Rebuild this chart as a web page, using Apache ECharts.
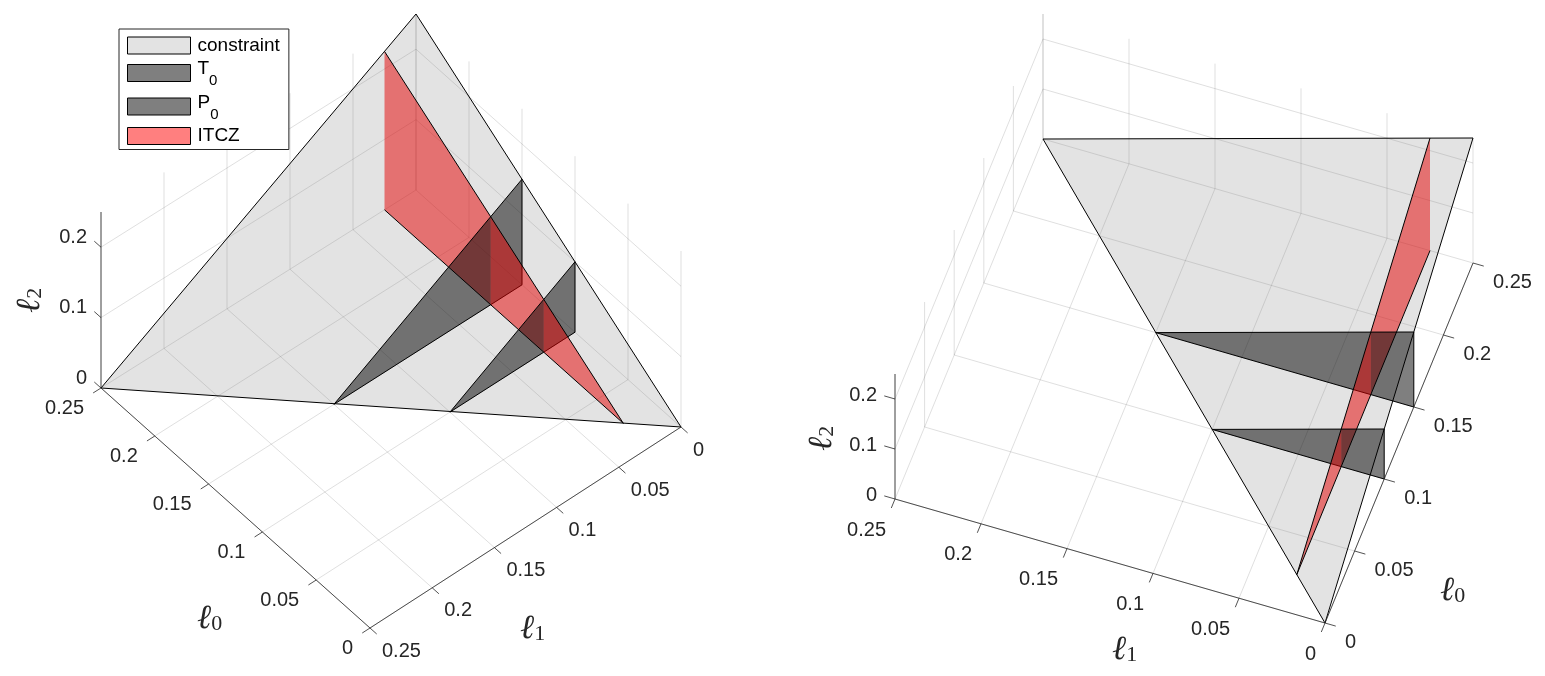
<!DOCTYPE html>
<html lang="en">

<head>
  <meta charset="UTF-8">
  <title>constraint, T0, P0, ITCZ</title>
  <script src="https://cdn.jsdelivr.net/npm/echarts@6/dist/echarts.min.js"></script>
  <style>
    html, body { margin: 0; padding: 0; background: #fff; }
    #myCharts { width: 1545px; height: 676px; }
  </style>
</head>

<body>
  <div id="myCharts"></div>

  <script>
    // axis values
    var lTicks = [0, 0.05, 0.1, 0.15, 0.2, 0.25];
    var lTickLabels = ['0', '0.05', '0.1', '0.15', '0.2', '0.25'];
    var zTicks = [0, 0.1, 0.2];
    var zTickLabels = ['0', '0.1', '0.2'];
    var lMax = 0.25;
    var zMax = 0.25;

    // surfaces, every vertex is [l0, l1, l2]. The outline runs along the listed
    // points and is not closed, the fill is.
    var constraint = [[0.25, 0.25, 0], [0, 0, 0], [0.25, 0, 0.25], [0.25, 0.25, 0]];
    var itcz = [[0.25, 0.025, 0.225], [0.025, 0.025, 0], [0.25, 0.025, 0]];
    // T0 and P0 are cut where they cross the ITCZ, so each side can be painted in depth order
    var t0High = [[0.15, 0.025, 0.125], [0.15, 0.15, 0], [0.15, 0.025, 0]];
    var t0Low = [[0.15, 0.025, 0], [0.15, 0, 0], [0.15, 0, 0.15], [0.15, 0.025, 0.125]];
    var p0High = [[0.1, 0.025, 0.075], [0.1, 0.1, 0], [0.1, 0.025, 0]];
    var p0Low = [[0.1, 0.025, 0], [0.1, 0, 0], [0.1, 0, 0.1], [0.1, 0.025, 0.075]];

    var legendNames = ['constraint', 'T0', 'P0', 'ITCZ'];
    var legendLabels = ['{n|constraint}', '{t|T}{sub|0}', '{t|P}{sub|0}', '{n|ITCZ}'];

    // fill inside the plots
    var fills = {
      constraint: 'rgba(128,128,128,0.22)',
      T0: 'rgba(0,0,0,0.5)',
      P0: 'rgba(0,0,0,0.5)',
      ITCZ: 'rgba(230,0,0,0.5)'
    };
    // fill of the legend swatches
    var swatches = {
      constraint: 'rgba(128,128,128,0.22)',
      T0: 'rgba(0,0,0,0.5)',
      P0: 'rgba(0,0,0,0.5)',
      ITCZ: 'rgba(255,0,0,0.5)'
    };
    var textColor = '#262626';
    var gridColor = 'rgba(38,38,38,0.15)';
    var tickFont = '20px "Liberation Sans"';

    // the two camera views. Vectors are pixels for one unit of data, cross is the
    // small shift from the perspective of the left view
    var views = [{
      left: 0,
      origin: [681, 427],
      l0: [-1060, -948],
      l1: [-1244, 804],
      l2: [0, -704],
      cross: [-64, -48],
      wallL0: 0.25, wallL1: 0,
      zCorner: [0.25, 0.25], zTickDir: [1, 0],
      l0Axis: { l1: 0.25, tick: 1, off: [-17, 20], align: 'right' },
      l1Axis: { l0: 0, tick: -1, off: [12, 23], align: 'left' },
      zOff: [-14, -10],
      paint: [['T0', t0Low], ['P0', p0Low], ['ITCZ', itcz], ['T0', t0High], ['P0', p0High]],
      names: [
        { sub: '0', x: 197, y: 602, rot: 0 },
        { sub: '1', x: 520, y: 612, rot: 0 },
        { sub: '2', x: 13, y: 313, rot: 90 }
      ]
    }, {
      left: 773,
      origin: [552, 623],
      l0: [592, -1440],
      l1: [-1720, -496],
      l2: [0, -500],
      cross: [0, 0],
      wallL0: 0.25, wallL1: 0.25,
      zCorner: [0, 0.25], zTickDir: [0, 1],
      l0Axis: { l1: 0, tick: -1, off: [20, 19], align: 'left' },
      l1Axis: { l0: 0, tick: -1, off: [-9, 31], align: 'right' },
      zOff: [-18, -4],
      paint: [['T0', t0High], ['P0', p0High], ['ITCZ', itcz], ['T0', t0Low], ['P0', p0Low]],
      names: [
        { sub: '0', x: 667, y: 574, rot: 0 },
        { sub: '1', x: 339, y: 633, rot: 0 },
        { sub: '2', x: 32, y: 451, rot: 90 }
      ]
    }];

    function project(p, view) {
      return [
        view.origin[0] + p[0] * view.l0[0] + p[1] * view.l1[0] + p[2] * view.l2[0] + p[0] * p[1] * view.cross[0],
        view.origin[1] + p[0] * view.l0[1] + p[1] * view.l1[1] + p[2] * view.l2[1] + p[0] * p[1] * view.cross[1]
      ];
    }

    function flat(points, view) {
      var row = [];
      points.forEach(function (p) {
        var xy = project(p, view);
        row.push(xy[0], xy[1]);
      });
      return row;
    }

    function surfaceSeries(name, points, view, i) {
      var count = points.length;
      return {
        type: 'custom',
        name: name,
        xAxisIndex: i,
        yAxisIndex: i,
        z: 3,
        silent: true,
        itemStyle: { color: swatches[name], borderColor: '#000', borderWidth: 1 },
        data: [flat(points, view)],
        renderItem: function (params, api) {
          var pts = [];
          for (var k = 0; k < count; k++) {
            pts.push(api.coord([api.value(2 * k), api.value(2 * k + 1)]));
          }
          return {
            type: 'group',
            children: [
              { type: 'polygon', shape: { points: pts }, style: { fill: fills[name] } },
              { type: 'polyline', shape: { points: pts }, style: { fill: null, stroke: '#000', lineWidth: 1 } }
            ]
          };
        }
      };
    }

    function segmentSeries(segments, view, i, color, width, z) {
      return {
        type: 'custom',
        xAxisIndex: i,
        yAxisIndex: i,
        z: z,
        silent: true,
        data: segments.map(function (s) { return flat(s, view); }),
        renderItem: function (params, api) {
          var a = api.coord([api.value(0), api.value(1)]);
          var b = api.coord([api.value(2), api.value(3)]);
          return {
            type: 'line',
            shape: { x1: a[0], y1: a[1], x2: b[0], y2: b[1] },
            style: { stroke: color, lineWidth: width }
          };
        }
      };
    }

    function labelSeries(points, labels, view, i, off, align) {
      return {
        type: 'custom',
        xAxisIndex: i,
        yAxisIndex: i,
        z: 5,
        silent: true,
        data: points.map(function (p) { return project(p, view); }),
        renderItem: function (params, api) {
          var c = api.coord([api.value(0), api.value(1)]);
          return {
            type: 'text',
            x: c[0] + off[0],
            y: c[1] + off[1],
            style: {
              text: labels[params.dataIndex],
              font: tickFont,
              fill: textColor,
              align: align,
              verticalAlign: 'middle'
            }
          };
        }
      };
    }

    // grid lines on the floor and the two back walls
    function gridSegments(view) {
      var out = [];
      lTicks.forEach(function (t) {
        out.push([[t, 0, 0], [t, lMax, 0]]);
        out.push([[0, t, 0], [lMax, t, 0]]);
        out.push([[t, view.wallL1, 0], [t, view.wallL1, zMax]]);
        out.push([[view.wallL0, t, 0], [view.wallL0, t, zMax]]);
      });
      zTicks.forEach(function (z) {
        if (z === 0) return;
        out.push([[0, view.wallL1, z], [lMax, view.wallL1, z]]);
        out.push([[view.wallL0, 0, z], [view.wallL0, lMax, z]]);
      });
      return out;
    }

    // axis lines and ticks, a tick is 2.5% of the axis it runs along
    function axisSegments(view) {
      var tick = lMax * 0.025;
      var a0 = view.l0Axis, a1 = view.l1Axis, zc = view.zCorner;
      var out = [
        [[0, a0.l1, 0], [lMax, a0.l1, 0]],
        [[a1.l0, 0, 0], [a1.l0, lMax, 0]],
        [[zc[0], zc[1], 0], [zc[0], zc[1], zMax]]
      ];
      lTicks.forEach(function (t) {
        out.push([[t, a0.l1, 0], [t, a0.l1 + a0.tick * tick, 0]]);
        out.push([[a1.l0, t, 0], [a1.l0 + a1.tick * tick, t, 0]]);
      });
      zTicks.forEach(function (z) {
        out.push([[zc[0], zc[1], z], [zc[0] + view.zTickDir[0] * tick, zc[1] + view.zTickDir[1] * tick, z]]);
      });
      return out;
    }

    var series = [];
    views.forEach(function (view, i) {
      series.push(segmentSeries(gridSegments(view), view, i, gridColor, 1, 1));
      series.push(surfaceSeries('constraint', constraint, view, i));
      view.paint.forEach(function (piece) {
        series.push(surfaceSeries(piece[0], piece[1], view, i));
      });
      series.push(segmentSeries(axisSegments(view), view, i, textColor, 0.8, 4));
      series.push(labelSeries(lTicks.map(function (t) { return [t, view.l0Axis.l1, 0]; }), lTickLabels, view, i, view.l0Axis.off, view.l0Axis.align));
      series.push(labelSeries(lTicks.map(function (t) { return [view.l1Axis.l0, t, 0]; }), lTickLabels, view, i, view.l1Axis.off, view.l1Axis.align));
      series.push(labelSeries(zTicks.map(function (z) { return [view.zCorner[0], view.zCorner[1], z]; }), zTickLabels, view, i, view.zOff, 'right'));
    });

    // axis names, l with a subscript
    var graphics = [];
    views.forEach(function (view) {
      view.names.forEach(function (n) {
        graphics.push({
          type: 'text',
          x: view.left + n.x,
          y: n.y,
          rotation: n.rot * Math.PI / 180,
          z: 6,
          style: {
            text: '{l|\u2113}{s|' + n.sub + '}',
            fill: textColor,
            rich: {
              l: { font: 'italic 34px "DejaVu Serif"', fill: textColor },
              s: { font: '22px "Liberation Serif"', fill: textColor, padding: [10, 0, 0, 0] }
            }
          }
        });
      });
    });

    var myChart = echarts.init(document.getElementById('myCharts'));
    var option = {
      animation: false,
      backgroundColor: '#fff',
      grid: [
        { left: 0, top: 0, width: 772, height: 676 },
        { left: 773, top: 0, width: 772, height: 676 }
      ],
      xAxis: [
        { type: 'value', gridIndex: 0, min: 0, max: 772, show: false },
        { type: 'value', gridIndex: 1, min: 0, max: 772, show: false }
      ],
      yAxis: [
        { type: 'value', gridIndex: 0, min: 0, max: 676, inverse: true, show: false },
        { type: 'value', gridIndex: 1, min: 0, max: 676, inverse: true, show: false }
      ],
      legend: {
        data: legendNames,
        orient: 'vertical',
        left: 119,
        top: 29,
        padding: [7, 9, 4, 8],
        itemWidth: 63,
        itemHeight: 17,
        itemGap: 4.5,
        icon: 'rect',
        selectedMode: false,
        backgroundColor: '#fff',
        borderColor: '#262626',
        borderWidth: 1,
        itemStyle: { borderColor: '#000', borderWidth: 1 },
        formatter: function (name) {
          return legendLabels[legendNames.indexOf(name)];
        },
        textStyle: {
          color: '#000',
          fontFamily: 'Liberation Sans',
          fontSize: 19,
          padding: [0, 0, 0, 2],
          rich: {
            n: { fontFamily: 'Liberation Sans', fontSize: 19, color: '#000', lineHeight: 22 },
            t: { fontFamily: 'Liberation Sans', fontSize: 19, color: '#000', padding: [0, 0, 8, 0] },
            sub: { fontFamily: 'Liberation Sans', fontSize: 15, color: '#000', padding: [16, 0, 0, 0] }
          }
        }
      },
      graphic: graphics,
      series: series
    };
    myChart.setOption(option);
  </script>
</body>

</html>
